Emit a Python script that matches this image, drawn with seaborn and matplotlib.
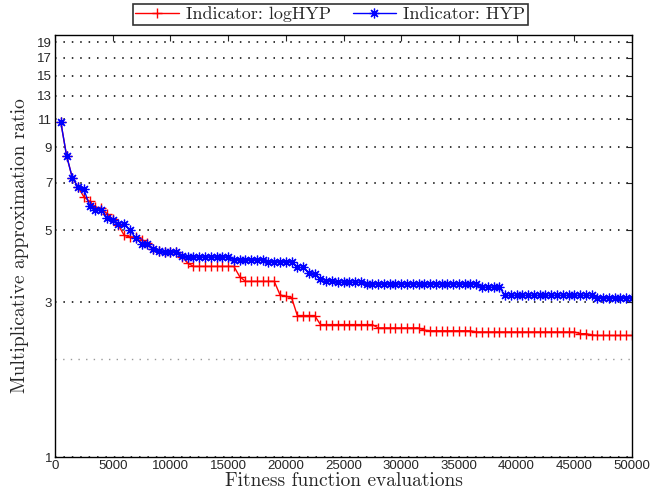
import numpy as np
import pandas as pd
import matplotlib
matplotlib.use("Agg")
import matplotlib.pyplot as plt
import seaborn as sns
from matplotlib.ticker import FixedLocator, NullFormatter

# ---- data ----
evaluations = list(range(500, 50001, 500))

loghyp = [
    10.8, 8.5, 7.26, 6.8, 6.34, 6.14, 5.9, 5.84, 5.63, 5.42,
    5.18, 4.82, 4.77, 4.77, 4.68, 4.57, 4.37, 4.31, 4.29, 4.29,
    4.29, 4.15, 3.96, 3.87, 3.87, 3.87, 3.87, 3.87, 3.87, 3.87,
    3.87, 3.6, 3.48, 3.48, 3.48, 3.48, 3.48, 3.48, 3.16, 3.13,
    3.1, 2.73, 2.73, 2.73, 2.73, 2.56, 2.56, 2.56, 2.56, 2.56,
    2.56, 2.56, 2.56, 2.56, 2.56, 2.5, 2.5, 2.5, 2.5, 2.5,
    2.5, 2.5, 2.5, 2.46, 2.45, 2.45, 2.45, 2.45, 2.45, 2.45,
    2.45, 2.45, 2.43, 2.43, 2.43, 2.43, 2.43, 2.43, 2.43, 2.43,
    2.43, 2.43, 2.43, 2.43, 2.43, 2.43, 2.43, 2.43, 2.43, 2.43,
    2.4, 2.4, 2.38, 2.37, 2.37, 2.37, 2.37, 2.37, 2.37, 2.37,
]

hyp = [
    10.8, 8.5, 7.26, 6.8, 6.69, 5.96, 5.78, 5.78, 5.46, 5.36,
    5.21, 5.21, 5.0, 4.73, 4.55, 4.55, 4.37, 4.31, 4.29, 4.29,
    4.29, 4.17, 4.14, 4.14, 4.14, 4.14, 4.14, 4.14, 4.14, 4.14,
    4.06, 4.06, 4.06, 4.06, 4.06, 4.06, 4.0, 4.0, 4.0, 4.0,
    4.0, 3.84, 3.84, 3.69, 3.67, 3.54, 3.5, 3.5, 3.46, 3.46,
    3.46, 3.46, 3.46, 3.42, 3.42, 3.42, 3.42, 3.42, 3.42, 3.42,
    3.42, 3.42, 3.42, 3.42, 3.42, 3.42, 3.42, 3.42, 3.42, 3.42,
    3.42, 3.42, 3.42, 3.34, 3.34, 3.34, 3.34, 3.15, 3.15, 3.15,
    3.15, 3.15, 3.15, 3.15, 3.15, 3.15, 3.15, 3.15, 3.15, 3.15,
    3.15, 3.15, 3.15, 3.1, 3.1, 3.1, 3.1, 3.1, 3.1, 3.1,
]

series_labels = ["Indicator: logHYP", "Indicator: HYP"]
y_ticks = [1, 3, 5, 7, 9, 11, 13, 15, 17, 19]
x_ticks = list(range(0, 50001, 5000))

df = pd.DataFrame({
    "evals": evaluations * 2,
    "ratio": loghyp + hyp,
    "indicator": [series_labels[0]] * len(loghyp) + [series_labels[1]] * len(hyp),
})

# ---- style ----
sns.set_style("white")
serif = ["cmr10", "DejaVu Serif"]
sans = ["Liberation Sans", "DejaVu Sans"]
plt.rcParams["font.family"] = sans
plt.rcParams["axes.formatter.use_mathtext"] = True

fig = plt.figure(figsize=(6.61, 4.95), dpi=100)
ax = fig.add_axes([55 / 661, 38 / 495, (632 - 55) / 661, (457 - 35) / 495])

styles = {
    series_labels[0]: dict(color="#ff0000", marker="+", markersize=7,
                           markeredgewidth=1.0, markeredgecolor="#ff0000"),
    series_labels[1]: dict(color="#0000ff", marker=(8, 2, 0), markersize=7,
                           markeredgewidth=0.9, markeredgecolor="#0000ff"),
}
for lab in series_labels:
    sub = df[df["indicator"] == lab]
    sns.lineplot(data=sub, x="evals", y="ratio", ax=ax, label=lab,
                 linewidth=1.0, estimator=None, **styles[lab])

ax.set_yscale("log")
ax.set_ylim(1, 20)
ax.set_xlim(0, 50000)
ax.yaxis.set_major_locator(FixedLocator(y_ticks))
ax.yaxis.set_major_formatter(matplotlib.ticker.FixedFormatter([str(t) for t in y_ticks]))
ax.yaxis.set_minor_locator(FixedLocator([2]))
ax.yaxis.set_minor_formatter(NullFormatter())
ax.set_xticks(x_ticks)
ax.set_xticklabels([str(t) for t in x_ticks])

ax.grid(False)
ax.grid(True, which="major", axis="y", color="black", linestyle=(0, (1, 4.5)), linewidth=1.1)
ax.grid(True, which="minor", axis="y", color="0.6", linestyle=(0, (1, 4.5)), linewidth=1.0)

ax.tick_params(axis="both", which="major", direction="in", length=4, width=0.8,
               labelsize=9.5, top=True, right=True, pad=2)
ax.tick_params(axis="y", which="minor", length=0)
for sp in ax.spines.values():
    sp.set_visible(True)
    sp.set_color("black")
    sp.set_linewidth(1.0)

ax.set_xlabel("Fitness function evaluations", family=serif, fontsize=14, labelpad=0)
ax.set_ylabel("Multiplicative approximation ratio", family=serif, fontsize=14, labelpad=6)

leg = ax.legend(loc="lower center", bbox_to_anchor=(0.477, 1.015), ncol=2,
                frameon=True, fancybox=False, edgecolor="black",
                prop={"family": serif, "size": 13}, handlelength=2.4,
                borderpad=0.15, columnspacing=1.2, handletextpad=0.4, borderaxespad=0.2)
leg.get_frame().set_linewidth(1.2)

fig.savefig("out.png", dpi=100)
